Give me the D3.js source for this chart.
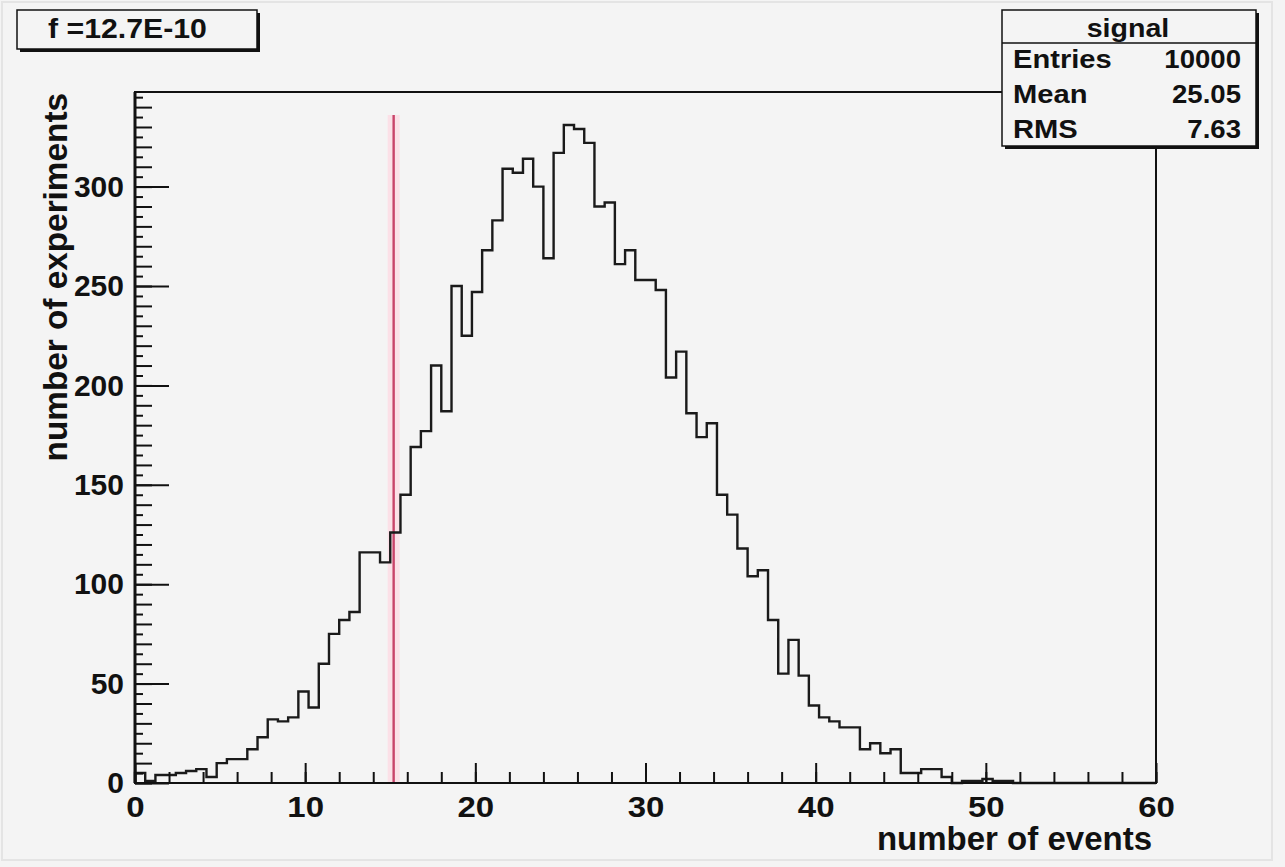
<!DOCTYPE html>
<html>
<head>
<meta charset="utf-8">
<script src="https://cdn.jsdelivr.net/npm/d3@7"></script>
<style>
  html, body { margin: 0; padding: 0; background: #f4f4f4; }
  svg { display: block; }
  text { font-family: "Liberation Sans", Arial, Helvetica, sans-serif; font-weight: bold; fill: #111; }
</style>
</head>
<body>
<div id="chart"></div>
<script>
// histogram "signal": 100 bins from 0 to 60
const xMin = 0;
const xMax = 60;
const binWidth = 0.6;
const binCounts = [
  5, 1, 4, 4, 5, 6, 7, 3, 10, 12,
  12, 17, 23, 32, 31, 33, 46, 38, 60, 75,
  82, 86, 116, 116, 111, 126, 145, 169, 177, 210,
  187, 250, 225, 247, 268, 283, 309, 307, 314, 300,
  264, 317, 331, 329, 322, 290, 292, 261, 268, 253,
  253, 248, 204, 217, 186, 174, 181, 145, 135, 118,
  104, 107, 82, 55, 72, 54, 39, 33, 31, 28,
  28, 17, 20, 15, 17, 5, 5, 7, 7, 3,
  0, 1, 1, 2, 1, 1, 0, 0, 0, 0,
  0, 0, 0, 0, 0, 0, 0, 0, 0, 0
];
const yMax = 347.6;

const xTickValues = [0, 10, 20, 30, 40, 50, 60];
const xMinorTicks = d3.range(0, 61, 2);
const yTickValues = [0, 50, 100, 150, 200, 250, 300];
const yMidTicks = d3.range(0, 341, 10);
const yMinorTicks = d3.range(5, 346, 10);

// red cut line
const cutValue = 15.2;
const cutTop = 336;

const titleText = "f =12.7E-10";
const statsTitle = "signal";
const statLabels = ["Entries", "Mean", "RMS"];
const statValues = ["10000", "25.05", "7.63"];

const xTitle = "number of events";
const yTitle = "number of experiments";

const width = 1285, height = 867;
const margin = { left: 135, right: 129, top: 92, bottom: 84 };

const svg = d3.select("#chart").append("svg")
  .attr("width", width)
  .attr("height", height);

svg.append("rect")
  .attr("x", 0).attr("y", 0).attr("width", width).attr("height", height)
  .attr("fill", "#f4f4f4");
svg.append("rect")
  .attr("x", 2).attr("y", 2).attr("width", 1270).attr("height", 858)
  .attr("fill", "none").attr("stroke", "#e4e4e4").attr("stroke-width", 2);

const x = d3.scaleLinear().domain([xMin, xMax]).range([margin.left, width - margin.right]);
const y = d3.scaleLinear().domain([0, yMax]).range([height - margin.bottom, margin.top]);

// text in the reference is a bit wider than Liberation Sans
function stretch(sel, k) {
  sel.each(function () {
    const w = this.getComputedTextLength();
    d3.select(this).attr("textLength", w * k).attr("lengthAdjust", "spacingAndGlyphs");
  });
}

// red cut line with pink halo
svg.append("line")
  .attr("x1", x(cutValue)).attr("x2", x(cutValue))
  .attr("y1", y(0)).attr("y2", y(cutTop))
  .attr("stroke", "#fbe0e7").attr("stroke-width", 12);
svg.append("line")
  .attr("x1", x(cutValue)).attr("x2", x(cutValue))
  .attr("y1", y(0)).attr("y2", y(cutTop))
  .attr("stroke", "#c8446a").attr("stroke-width", 2.4);

// histogram step line
const pts = [[xMin, 0]];
binCounts.forEach((c, i) => pts.push([xMin + i * binWidth, c]));
pts.push([xMax, binCounts[binCounts.length - 1]]);
pts.push([xMax, 0]);

const step = d3.line()
  .x(d => x(d[0]))
  .y(d => y(d[1]))
  .curve(d3.curveStepAfter);

svg.append("path")
  .attr("d", step(pts))
  .attr("fill", "none")
  .attr("stroke", "#1a1a1a")
  .attr("stroke-width", 2.4);

// y axis: ticks point into the frame
function yAxisLayer(values, size, withLabels) {
  const g = svg.append("g")
    .attr("transform", `translate(${x(xMin)},0)`)
    .call(d3.axisLeft(y).tickValues(values).tickSize(-size).tickPadding(11)
      .tickFormat(withLabels ? d3.format("d") : ""));
  g.select(".domain").remove();
  g.selectAll("line").attr("stroke", "#111").attr("stroke-width", 2);
  return g;
}
yAxisLayer(yMinorTicks, 8, false);
yAxisLayer(yMidTicks, 17, false);
const yAx = yAxisLayer(yTickValues, 34, true);
yAx.selectAll("text")
  .attr("font-size", 30)
  .attr("font-family", "Liberation Sans, Arial, sans-serif")
  .attr("font-weight", "bold")
  .attr("fill", "#111");

// x axis
function xAxisLayer(values, size, withLabels) {
  const g = svg.append("g")
    .attr("transform", `translate(0,${y(0)})`)
    .call(d3.axisBottom(x).tickValues(values).tickSize(-size).tickPadding(13)
      .tickFormat(withLabels ? d3.format("d") : ""));
  g.select(".domain").remove();
  g.selectAll("line").attr("stroke", "#111").attr("stroke-width", 2);
  return g;
}
xAxisLayer(xMinorTicks, 11, false);
const xAx = xAxisLayer(xTickValues, 20, true);
xAx.selectAll("text")
  .attr("font-size", 30)
  .attr("font-family", "Liberation Sans, Arial, sans-serif")
  .attr("font-weight", "bold")
  .attr("fill", "#111")
  .call(stretch, 1.1);

// frame
svg.append("rect")
  .attr("x", x(xMin)).attr("y", y(yMax))
  .attr("width", x(xMax) - x(xMin)).attr("height", y(0) - y(yMax))
  .attr("fill", "none").attr("stroke", "#111").attr("stroke-width", 2);
svg.append("line")
  .attr("x1", x(xMin)).attr("x2", x(xMin)).attr("y1", y(yMax)).attr("y2", y(0))
  .attr("stroke", "#111").attr("stroke-width", 3);

// axis titles
svg.append("text")
  .attr("x", x(xMax) - 4).attr("y", 850)
  .attr("text-anchor", "end")
  .attr("font-size", 33)
  .text(xTitle);

svg.append("text")
  .attr("transform", `translate(67,${y(yMax) + 1}) rotate(-90)`)
  .attr("text-anchor", "end")
  .attr("font-size", 34)
  .text(yTitle)
  .call(stretch, 0.98);

// title pave "f =..."
const tb = { x: 17, y: 10, w: 240, h: 39 };
svg.append("rect")
  .attr("x", tb.x + 3).attr("y", tb.y + 3).attr("width", tb.w).attr("height", tb.h)
  .attr("fill", "#111");
svg.append("rect")
  .attr("x", tb.x).attr("y", tb.y).attr("width", tb.w).attr("height", tb.h)
  .attr("fill", "#f4f4f4").attr("stroke", "#111").attr("stroke-width", 1.5);
svg.append("text")
  .attr("x", 48).attr("y", 38)
  .attr("font-size", 27)
  .text(titleText)
  .call(stretch, 1.12);

// stats box
const sb = { x: 1002, y: 10, w: 254, h: 136 };
svg.append("rect")
  .attr("x", sb.x + 3).attr("y", sb.y + 3).attr("width", sb.w).attr("height", sb.h)
  .attr("fill", "#111");
svg.append("rect")
  .attr("x", sb.x).attr("y", sb.y).attr("width", sb.w).attr("height", sb.h)
  .attr("fill", "#f4f4f4").attr("stroke", "#111").attr("stroke-width", 1.5);
svg.append("line")
  .attr("x1", sb.x).attr("x2", sb.x + sb.w)
  .attr("y1", 43).attr("y2", 43)
  .attr("stroke", "#111").attr("stroke-width", 1.5);
svg.append("text")
  .attr("x", 1128).attr("y", 37)
  .attr("text-anchor", "middle")
  .attr("font-size", 26)
  .text(statsTitle)
  .call(stretch, 1.1);

const rowY = d3.scaleLinear().domain([0, 2]).range([68, 138]);
svg.selectAll(".stat-label")
  .data(statLabels)
  .join("text")
  .attr("class", "stat-label")
  .attr("x", 1013)
  .attr("y", (d, i) => rowY(i))
  .attr("font-size", 26)
  .text(d => d)
  .call(stretch, 1.12);

svg.selectAll(".stat-value")
  .data(statValues)
  .join("text")
  .attr("class", "stat-value")
  .attr("x", 1241)
  .attr("y", (d, i) => rowY(i))
  .attr("text-anchor", "end")
  .attr("font-size", 26)
  .text(d => d)
  .call(stretch, 1.06);
</script>
</body>
</html>
